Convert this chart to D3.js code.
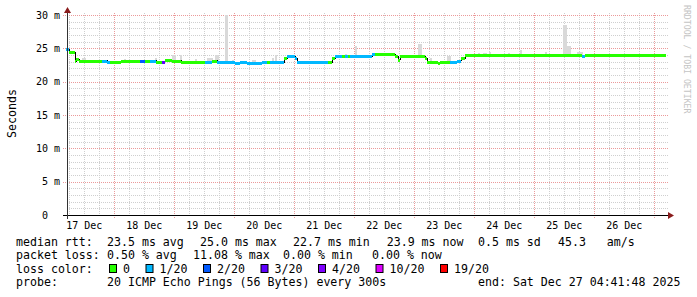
<!DOCTYPE html>
<html>
<head>
<meta charset="utf-8">
<script src="https://cdn.jsdelivr.net/npm/d3@7"></script>
<style>
  body { margin: 0; background: #fff; }
  text { font-family: "DejaVu Sans Mono", monospace; white-space: pre; }
</style>
</head>
<body>
<script>
// smokeping: 10 days median rtt, coloured by loss
const W = 697, H = 297;

const lossLabels = ["0", "1/20", "2/20", "3/20", "4/20", "10/20", "19/20"];
const lossColors = ["#26ff00", "#00b8ff", "#0059ff", "#5e00ff", "#7e00ff", "#dd00ff", "#ff0000"];

// median rtt steps (start time, ms, loss colour index)
const medianTimes = [
  "17 04:42", "17 06:00", "17 08:24", "17 08:48", "17 10:00", "17 19:12", "17 21:12", "17 22:24",
  "18 02:48", "18 10:24", "18 12:24", "18 14:24", "18 16:48", "18 19:12", "18 20:24", "18 23:12",
  "19 02:48", "19 12:24", "19 15:12", "19 17:12", "20 00:24", "20 02:24", "20 05:12", "20 11:12",
  "20 13:12", "20 14:24", "20 20:00", "20 21:12", "21 00:24", "21 01:12", "21 13:36", "21 15:12",
  "21 16:24", "21 19:12", "21 20:24", "21 21:36", "21 22:24", "22 07:12", "22 08:24", "22 16:24",
  "22 17:36", "22 18:24", "23 04:24", "23 05:12", "23 09:36", "23 10:24", "23 14:24", "23 17:12",
  "23 18:48", "23 20:24", "25 19:12", "25 20:24"
];
const medianValues = [
  24.9, 24.4, 23.1, 23.35, 23.15, 23.15, 22.9, 22.9,
  23.15, 23.15, 23.15, 23.15, 22.9, 23.0, 23.25, 23.15,
  22.9, 22.9, 23.15, 22.9, 22.75, 22.9, 22.75, 22.9,
  22.9, 22.9, 23.5, 23.85, 23.5, 22.9, 22.9, 23.5,
  23.85, 23.85, 23.85, 23.85, 23.85, 24.1, 24.15, 23.8,
  23.3, 23.85, 23.5, 22.9, 22.75, 22.9, 22.9, 23.15,
  23.5, 24.0, 23.9, 24.0
];
const medianLoss = [
  1, 0, 0, 0, 0, 1, 1, 0,
  0, 2, 0, 1, 0, 3, 0, 0,
  0, 1, 0, 1, 1, 1, 1, 1,
  0, 1, 0, 1, 1, 1, 0, 0,
  1, 0, 1, 0, 1, 1, 0, 0,
  0, 0, 0, 0, 0, 0, 1, 1,
  0, 0, 1, 0
];
const endTime = "27 04:41";

// smoke (top of the ping spread above the median)
const smokeTimes = [
  "17 11:12", "17 12:00", "18 04:00", "18 16:24", "18 23:12", "19 00:00", "19 02:24", "19 08:24",
  "19 13:12", "19 14:00", "19 14:48", "19 16:24", "19 17:12", "19 20:24", "19 20:48", "19 23:12",
  "20 07:12", "20 08:00", "20 15:12", "20 16:24", "21 05:36", "21 06:24", "21 20:24", "22 00:24",
  "23 01:36", "23 02:24", "23 06:24", "23 13:12", "23 14:00", "24 01:36", "24 03:36", "24 04:24",
  "24 06:00", "24 13:36", "24 18:24", "25 04:24", "25 11:36", "25 12:24", "25 13:12", "25 14:00",
  "25 17:12", "25 18:00", "25 18:48"
];
const smokeTops = [
  23.6, 23.6, 23.4, 23.5, 24.0, 24.0, 24.0, 23.4,
  23.6, 23.6, 23.6, 24.0, 24.0, 30.0, 30.0, 23.2,
  23.2, 23.2, 23.6, 24.0, 23.1, 23.1, 24.2, 25.3,
  25.7, 25.7, 23.5, 23.8, 23.8, 24.3, 24.3, 24.3,
  24.5, 24.3, 24.75, 24.45, 28.5, 28.5, 25.3, 25.3,
  24.5, 24.5, 24.4
];

const yTickValues = [0, 5, 10, 15, 20, 25, 30];
const yTickLabels = ["0", "5 m", "10 m", "15 m", "20 m", "25 m", "30 m"];

const statsRtt = ["median rtt:", "23.5 ms avg", "25.0 ms max", "22.7 ms min", "23.9 ms now", "0.5 ms sd", "45.3", "am/s"];
const statsLoss = ["packet loss:", "0.50 % avg", "11.08 % max", "0.00 % min", "0.00 % now"];
const probeText = ["probe:", "20 ICMP Echo Pings (56 Bytes) every 300s", "end: Sat Dec 27 04:41:48 2025"];

const parse = d3.timeParse("%Y-%m-%d %H:%M");
const t = s => parse("2025-12-" + s);

const x = d3.scaleTime().domain([t("17 04:42"), t("27 04:42")]).range([66, 666]);
const y = d3.scaleLinear().domain([0, 30]).range([215, 15]);
const px = v => Math.round(v) + 0.5;

const svg = d3.select("body").append("svg").attr("width", W).attr("height", H);
svg.append("rect").attr("width", W).attr("height", H).attr("fill", "#fff");

// grid
const g = svg.append("g").attr("shape-rendering", "crispEdges");
const hours = x.ticks(d3.timeHour.every(6));
g.selectAll(".vmin").data(hours.filter(d => d.getHours() !== 0)).enter().append("line")
  .attr("x1", d => px(x(d))).attr("x2", d => px(x(d)))
  .attr("y1", 13).attr("y2", 217)
  .attr("stroke", "#cfcfcf").attr("stroke-dasharray", "1,1");
const hmin = d3.range(1, 31).filter(v => v % 5 !== 0);
g.selectAll(".hmin").data(hmin).enter().append("line")
  .attr("x1", 67).attr("x2", 669)
  .attr("y1", d => px(y(d))).attr("y2", d => px(y(d)))
  .attr("stroke", "#cfcfcf").attr("stroke-dasharray", "1,1");
const days = x.ticks(d3.timeDay.every(1));
g.selectAll(".vmaj").data(days).enter().append("line")
  .attr("x1", d => px(x(d))).attr("x2", d => px(x(d)))
  .attr("y1", 13).attr("y2", 218)
  .attr("stroke", "#eb9a9a").attr("stroke-dasharray", "1,1");
g.selectAll(".hmaj").data(yTickValues.filter(v => v > 0)).enter().append("line")
  .attr("x1", 63).attr("x2", 669)
  .attr("y1", d => px(y(d))).attr("y2", d => px(y(d)))
  .attr("stroke", "#eb9a9a").attr("stroke-dasharray", "1,1");

// smoke
const segStarts = medianTimes.map(t);
const bis = d3.bisector(d => d).right;
const medianAt = d => medianValues[Math.max(0, bis(segStarts, d) - 1)];
svg.append("g").attr("shape-rendering", "crispEdges")
  .selectAll("rect").data(smokeTimes.map((s, i) => ({ d: t(s), top: smokeTops[i] })))
  .enter().append("rect")
  .attr("x", d => Math.round(x(d.d)))
  .attr("width", 2)
  .attr("y", d => Math.round(y(d.top)))
  .attr("height", d => Math.max(1, Math.round(y(medianAt(d.d))) - Math.round(y(d.top))))
  .attr("fill", "#d9d9d9");

// median: thin black step line, then coloured by loss
const segs = medianTimes.map((s, i) => ({
  t0: t(s),
  t1: t(i + 1 < medianTimes.length ? medianTimes[i + 1] : endTime),
  v: medianValues[i],
  loss: medianLoss[i]
}));
const stepPts = segs.map(s => [x(s.t0), y(s.v)]);
stepPts.push([x(t(endTime)), y(segs[segs.length - 1].v)]);
svg.append("path")
  .attr("d", d3.line().curve(d3.curveStepAfter)(stepPts))
  .attr("fill", "none").attr("stroke", "#000").attr("stroke-width", 1)
  .attr("shape-rendering", "crispEdges");
svg.append("g").attr("shape-rendering", "crispEdges")
  .selectAll("line").data(segs).enter().append("line")
  .attr("x1", d => x(d.t0)).attr("x2", d => x(d.t1))
  .attr("y1", d => Math.round(y(d.v)) + 0.5).attr("y2", d => Math.round(y(d.v)) + 0.5)
  .attr("stroke", d => lossColors[d.loss]).attr("stroke-width", 3);

// axes
const ax = svg.append("g").attr("shape-rendering", "crispEdges");
ax.append("line").attr("x1", 63).attr("x2", 669).attr("y1", 215.5).attr("y2", 215.5).attr("stroke", "#000");
ax.append("line").attr("x1", 67.5).attr("x2", 67.5).attr("y1", 219).attr("y2", 12).attr("stroke", "#333");
svg.append("path").attr("d", "M64,13L71,13L67.5,7Z").attr("fill", "#8a1c1c");
svg.append("path").attr("d", "M668,212L668,219L674,215.5Z").attr("fill", "#8a1c1c");

// tick labels
svg.selectAll(".ylab").data(yTickValues).enter().append("text")
  .attr("x", 60).attr("y", d => y(d) + 3.5)
  .attr("text-anchor", "end").attr("font-size", "10px").attr("fill", "#000")
  .text((d, i) => yTickLabels[i].length === 1 ? yTickLabels[i] + "  " : yTickLabels[i]);
const fmtDay = d3.timeFormat("%d %b");
svg.selectAll(".xlab").data(days.slice(0, -1).map(d => d3.timeHour.offset(d, -12)).concat([d3.timeHour.offset(days[days.length - 1], -12)]))
  .enter().append("text")
  .attr("x", d => x(d)).attr("y", 228.5)
  .attr("text-anchor", "middle").attr("font-size", "10px").attr("fill", "#000")
  .text(d => fmtDay(d));

svg.append("text").attr("transform", "translate(15.5,113.5) rotate(-90)")
  .attr("text-anchor", "middle").attr("font-size", "11.6px").attr("fill", "#000")
  .text("Seconds");
svg.append("text").attr("transform", "translate(684,5) rotate(90)")
  .attr("font-size", "8.2px").attr("fill", "#c4c4c4")
  .text("RRDTOOL / TOBI OETIKER");

// legend
const leg = svg.append("g").attr("font-size", "11.6px").attr("fill", "#000");
const line1X = [16, 107, 200, 293, 386.7, 478, 558, 606.7];
statsRtt.forEach((s, i) => leg.append("text").attr("x", line1X[i]).attr("y", 245.5).text(s));
const line2X = [16, 107, 193, 283, 372];
statsLoss.forEach((s, i) => leg.append("text").attr("x", line2X[i]).attr("y", 259).text(s));
leg.append("text").attr("x", 16).attr("y", 272.7).text("loss color:");
let lx = 109;
lossLabels.forEach((l, i) => {
  leg.append("rect").attr("x", lx + 0.5).attr("y", 264.5).attr("width", 7).attr("height", 8)
    .attr("fill", lossColors[i]).attr("stroke", "#000").attr("stroke-width", 1);
  leg.append("text").attr("x", lx + 14).attr("y", 272.7).text(l);
  lx += 14 + l.length * 7 + 15.5;
});
const line4X = [16, 107, 478];
probeText.forEach((s, i) => leg.append("text").attr("x", line4X[i]).attr("y", 286.3).text(s));
</script>
</body>
</html>
